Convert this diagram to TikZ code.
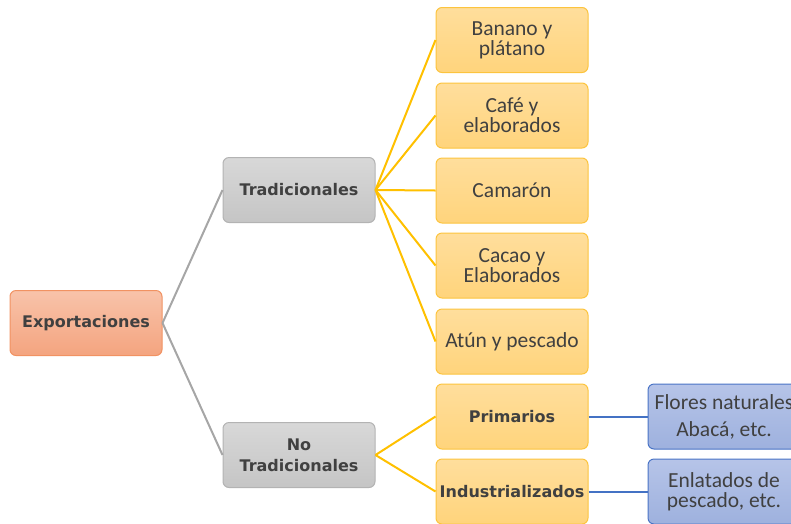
\documentclass[tikz,border=0pt]{standalone}
\usepackage{fontspec}
\setmainfont{Carlito}
\newfontfamily\boldfam{DejaVu Sans}
\definecolor{txt}{HTML}{404040}
\definecolor{orTop}{HTML}{F8C3AA}
\definecolor{orBot}{HTML}{F4A47F}
\definecolor{orBrd}{HTML}{F19262}
\definecolor{grTop}{HTML}{D8D8D8}
\definecolor{grBot}{HTML}{C5C5C5}
\definecolor{grBrd}{HTML}{B3B3B3}
\definecolor{yeTop}{HTML}{FFDE9C}
\definecolor{yeBot}{HTML}{FFD47C}
\definecolor{yeBrd}{HTML}{FCC43E}
\definecolor{blTop}{HTML}{B6C4E8}
\definecolor{blBot}{HTML}{9EB1DE}
\definecolor{blBrd}{HTML}{4A74C6}
\definecolor{lnGray}{HTML}{A6A6A6}
\definecolor{lnYel}{HTML}{FFC000}
\definecolor{lnBlue}{HTML}{4472C4}
\tikzset{
  box/.style={rounded corners=6pt, minimum width=152pt, minimum height=65pt,
    inner sep=0pt, align=center, text=txt, line width=1pt},
  boldtxt/.style={font=\boldfam\bfseries\fontsize{16}{21}\selectfont},
  regtxt/.style={font=\fontsize{21.5}{20}\selectfont},
  orbox/.style={box, boldtxt, draw=orBrd, top color=orTop, bottom color=orBot},
  grbox/.style={box, boldtxt, draw=grBrd, top color=grTop, bottom color=grBot},
  yebox/.style={box, regtxt, draw=yeBrd, top color=yeTop, bottom color=yeBot},
  yebbox/.style={box, boldtxt, draw=yeBrd, top color=yeTop, bottom color=yeBot},
  blbox/.style={box, regtxt, draw=blBrd, top color=blTop, bottom color=blBot},
  gline/.style={draw=lnGray, line width=2pt},
  yline/.style={draw=lnYel, line width=2pt},
  bline/.style={draw=lnBlue, line width=2pt},
}
\begin{document}
\begin{tikzpicture}[x=1pt,y=-1pt]
\useasboundingbox (0,0) rectangle (791,523);
\clip (0,0) rectangle (791,523);
\node[orbox] (exp) at (86,323) {Exportaciones};
\node[grbox] (trad) at (299,190) {Tradicionales};
\node[grbox] (notrad) at (299,455) {No\\Tradicionales};
\node[yebox] (ban) at (512,40) {Banano y\\plátano};
\node[yebox] (caf) at (512,115.5) {Café y\\elaborados};
\node[yebox] (cam) at (512,190.5) {Camarón};
\node[yebox] (cac) at (512,265.5) {Cacao y\\Elaborados};
\node[yebox] (atu) at (512,341.5) {Atún y pescado};
\node[yebbox] (pri) at (512,416.5) {Primarios};
\node[yebbox] (ind) at (512,491.5) {Industrializados};
\node[blbox] (flo) at (724,416.5) {Flores naturales\\[7pt]Abacá, etc.};
\node[blbox] (enl) at (724,491.5) {Enlatados de\\pescado, etc.};
\draw[gline] (exp.east) -- (trad.west);
\draw[gline] (exp.east) -- (notrad.west);
\foreach \n in {ban,caf,cam,cac,atu}{\draw[yline] (trad.east) -- (\n.west);}
\foreach \n in {pri,ind}{\draw[yline] (notrad.east) -- (\n.west);}
\draw[bline] (pri.east) -- (flo.west);
\draw[bline] (ind.east) -- (enl.west);
\end{tikzpicture}
\end{document}
